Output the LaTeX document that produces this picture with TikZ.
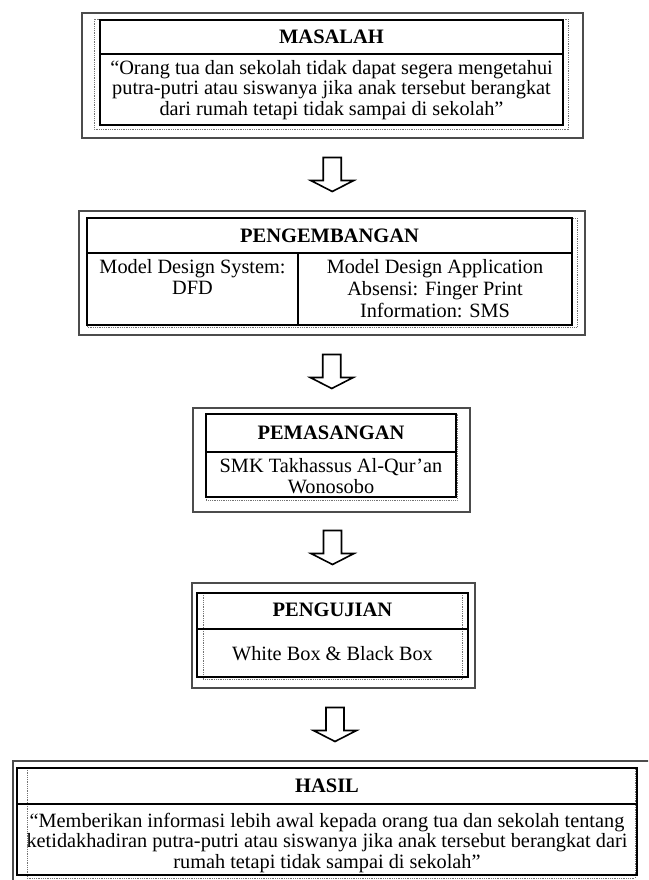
\documentclass[tikz,border=0pt]{standalone}
\usepackage{fontspec}
\setmainfont{Liberation Serif}
\usetikzlibrary{calc}
\begin{document}
\begin{tikzpicture}[x=1pt,y=-1pt,
  outerbox/.style={draw=black!70, line width=1.3pt, inner sep=0pt, outer sep=0pt},
  tbl/.style={draw=black, line width=1.1pt},
  dots/.style={draw=black!55, line width=0.9pt, dash pattern=on 0.9pt off 0.9pt},
  ttl/.style={font=\fontsize{20.5}{22}\selectfont\bfseries, align=center, inner sep=0pt},
  txt/.style={font=\fontsize{20.3}{20.8}\selectfont, align=center, inner sep=0pt},
  blk/.style={draw=black, line width=1.6pt, fill=white, line join=miter}]
\clip (0,0) rectangle (648,880);
\fill[white] (0,0) rectangle (648,880);

% ---------- outer boxes ----------
\node[outerbox, minimum width=501pt, minimum height=125pt] (b1) at (332.5,75.5) {};
\node[outerbox, minimum width=506pt, minimum height=124pt] (b2) at (332,273) {};
\node[outerbox, minimum width=277pt, minimum height=104pt] (b3) at (331.5,460) {};
\node[outerbox, minimum width=283pt, minimum height=105pt] (b4) at (333.5,635.5) {};
\node[outerbox, minimum width=647pt, minimum height=129pt] (b5) at (336.5,825.5) {};

% ---------- box 1: MASALAH ----------
\draw[dots] (94,19) rectangle (568,129);
\draw[tbl] (100,20) rectangle (563,125);
\draw[tbl] (100,54) -- (563,54);
\node[ttl] (t1) at (331.5,37) {MASALAH};
\node[txt] (d1) at (331.5,90) {“Orang tua dan sekolah tidak dapat segera mengetahui\\putra-putri atau siswanya jika anak tersebut berangkat\\dari rumah tetapi tidak sampai di sekolah”};

% ---------- box 2: PENGEMBANGAN ----------
\draw[dots] (87,218) rectangle (577,327);
\draw[tbl] (87,218) rectangle (572,325);
\draw[tbl] (87,253) -- (572,253);
\draw[tbl] (298,253) -- (298,325);
\node[ttl] (t2) at (329.5,236) {PENGEMBANGAN};
\node[txt, anchor=north] (d2a) at (192.5,259.5) {Model Design System:\\DFD};
\node[txt, anchor=north, font=\fontsize{20.3}{22}\selectfont] (d2b) at (435,259.5) {Model Design Application\\Absensi: Finger Print\\Information: SMS};

% ---------- box 3: PEMASANGAN ----------
\draw[dots] (206,414) rectangle (457,500);
\draw[tbl] (206,414) rectangle (456,497);
\draw[tbl] (206,452) -- (456,452);
\node[ttl] (t3) at (331,433) {PEMASANGAN};
\node[txt] (d3) at (331,476) {SMK Takhassus Al-Qur’an\\Wonosobo};

% ---------- box 4: PENGUJIAN ----------
\draw[dots] (203,593) rectangle (462,679);
\draw[tbl] (197,593) rectangle (468,677);
\draw[tbl] (197,629) -- (468,629);
\node[ttl] (t4) at (332.5,610) {PENGUJIAN};
\node[txt] (d4) at (332.5,654) {White Box \& Black Box};

% ---------- box 5: HASIL ----------
\draw[dots] (27,768) rectangle (635,878);
\draw[tbl] (17,768) rectangle (637,875);
\draw[tbl] (17,804) -- (637,804);
\node[ttl] (t5) at (327,786) {HASIL};
\node[txt] (d5) at (327,843) {“Memberikan informasi lebih awal kepada orang tua dan sekolah tentang\\ketidakhadiran putra-putri atau siswanya jika anak tersebut berangkat dari\\rumah tetapi tidak sampai di sekolah”};

% ---------- block arrows between boxes ----------
\coordinate (a1) at ($(b1.south)!0.5!(b2.north)$);
\coordinate (a2) at ($(b2.south)!0.5!(b3.north)$);
\coordinate (a3) at ($(b3.south)!0.5!(b4.north)$);
\coordinate (a4) at ($(b4.south)!0.5!(b5.north)$);
\foreach \a in {a1,a2,a3,a4}{
  \draw[blk] ($(\a)+(-9,-17)$) -- ++(18,0) -- ++(0,23) -- ++(12.5,0)
    -- ++(-21.5,11) -- ++(-21.5,-11) -- ++(12.5,0) -- cycle;
}
\end{tikzpicture}
\end{document}
